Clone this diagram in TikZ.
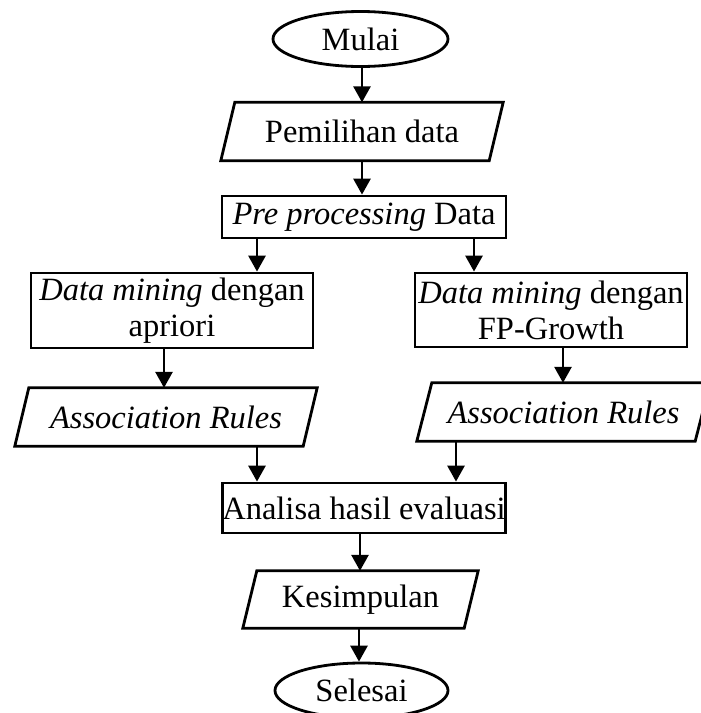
\documentclass[tikz,border=0pt]{standalone}
\usepackage{fontspec}
\setmainfont{Liberation Serif}
\usetikzlibrary{arrows.meta,shapes.geometric}
\newcommand\drawpara[2]{\draw[line] ([xshift=-#2]#1.south west) -- ([xshift=#2]#1.north west) -- ([xshift=#2]#1.north east) -- ([xshift=-#2]#1.south east) -- cycle;}
\begin{document}
\begin{tikzpicture}[x=1pt,y=-1pt,
 line/.style={line width=2.8pt, line join=miter},
 txt/.style={font=\fontsize{32.5}{36}\selectfont, inner sep=0pt, align=center},
 boxn/.style={txt, draw, line width=2.8pt, rectangle},
 ell/.style={txt, draw, line width=2.8pt, ellipse},
 pnode/.style={txt, rectangle},
 arr/.style={line width=2.8pt, -{Triangle[length=16pt,width=17pt]}}]
\useasboundingbox (0,0) rectangle (701,713);
% nodes
\node[ell, minimum width=175pt, minimum height=55pt] (mulai) at (360.5,39) {Mulai};
\node[pnode, minimum width=268pt, minimum height=58pt] (pilih) at (362,131.5) {Pemilihan data};
\drawpara{pilih}{7pt}
\node[boxn, minimum width=284pt, minimum height=42pt] (pre) at (364,217) {\textit{Pre processing} Data};
\node[boxn, minimum width=282pt, minimum height=75pt] (apriori) at (172,310.5) {\textit{Data mining} dengan\\apriori};
\node[boxn, minimum width=272pt, minimum height=74pt] (fp) at (551,310) {\textit{Data mining} dengan\\FP-Growth};
\node[pnode, minimum width=288pt, minimum height=58pt] (ar1) at (166,417) {\textit{Association Rules}};
\drawpara{ar1}{7pt}
\node[pnode, minimum width=278pt, minimum height=58pt] (ar2) at (563.5,412) {\textit{Association Rules}};
\drawpara{ar2}{7.5pt}
\node[boxn, minimum width=282pt, minimum height=50pt] (analisa) at (364,508) {Analisa hasil evaluasi};
\node[pnode, minimum width=221pt, minimum height=57pt] (kesimpulan) at (360.5,599.5) {Kesimpulan};
\drawpara{kesimpulan}{7pt}
\node[ell, minimum width=173pt, minimum height=55pt] (selesai) at (361.5,690.5) {Selesai};
% connector columns
\coordinate (cM) at (362,0);
\coordinate (cL) at (257,0);
\coordinate (cR) at (474,0);
\coordinate (cA) at (164,0);
\coordinate (cF) at (563,0);
\coordinate (cR2) at (456,0);
\coordinate (cK) at (360,0);
\coordinate (cS) at (359,0);
% connectors
\draw[arr] (mulai.south -| cM) -- (pilih.north -| cM);
\draw[arr] (pilih.south -| cM) -- (pre.north -| cM);
\draw[arr] (pre.south -| cL) -- (apriori.north -| cL);
\draw[arr] (pre.south -| cR) -- (fp.north -| cR);
\draw[arr] (apriori.south -| cA) -- (ar1.north -| cA);
\draw[arr] (fp.south -| cF) -- (ar2.north -| cF);
\draw[arr] (ar1.south -| cL) -- (analisa.north -| cL);
\draw[arr] (ar2.south -| cR2) -- (analisa.north -| cR2);
\draw[arr] (analisa.south -| cK) -- (kesimpulan.north -| cK);
\draw[arr] (kesimpulan.south -| cS) -- (selesai.north -| cS);
\end{tikzpicture}
\end{document}
